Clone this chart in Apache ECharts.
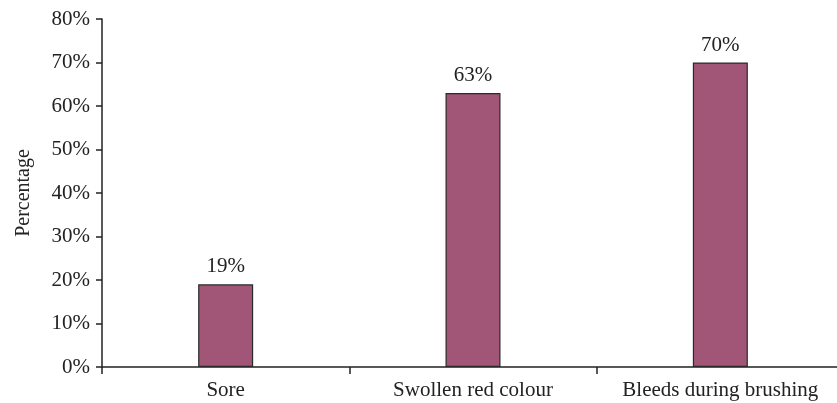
<!DOCTYPE html>
<html><head><meta charset="utf-8">
<script src="https://cdn.jsdelivr.net/npm/echarts@6/dist/echarts.min.js"></script>
<style>html,body{margin:0;padding:0;background:#fff;overflow:hidden}#c{width:850px;height:403px}</style>
</head><body><div id="c"></div>
<script>
const categories = ['Sore', 'Swollen red colour', 'Bleeds during brushing'];
const values = [19, 63, 70];
const yTicks = [0, 10, 20, 30, 40, 50, 60, 70, 80];
const yName = 'Percentage';

const font = 'Liberation Serif';
const chart = echarts.init(document.getElementById('c'));
chart.setOption({
  animation: false,
  backgroundColor: '#fff',
  grid: { left: 102, top: 19, width: 742, height: 348, containLabel: false },
  xAxis: {
    type: 'category', data: categories,
    axisLine: { lineStyle: { color: '#222', width: 1.5 } },
    axisTick: { show: true, interval: 0, alignWithLabel: false, length: 7, inside: false, lineStyle: { color: '#222', width: 1.5 } },
    axisLabel: { interval: 0, color: '#222', fontFamily: font, fontSize: 21, margin: 13 },
    splitLine: { show: false }
  },
  yAxis: {
    type: 'value', min: yTicks[0], max: yTicks[yTicks.length - 1], interval: 10,
    name: yName, nameLocation: 'middle', nameGap: 68, nameRotate: 90,
    nameTextStyle: { color: '#222', fontFamily: font, fontSize: 20 },
    axisLine: { show: true, lineStyle: { color: '#222', width: 1.5 } },
    axisTick: { show: true, length: 6, lineStyle: { color: '#222', width: 1.5 } },
    axisLabel: { color: '#222', fontFamily: font, fontSize: 21, margin: 12, formatter: v => v + '%' },
    splitLine: { show: false }
  },
  series: [{
    type: 'bar', data: values, barWidth: 55,
    itemStyle: { color: '#A15577', borderColor: '#2a2a2a', borderWidth: 1.2 },
    label: { show: true, position: 'top', distance: 7, color: '#222', fontFamily: font, fontSize: 21, formatter: p => p.value + '%' }
  }]
});
</script></body></html>
